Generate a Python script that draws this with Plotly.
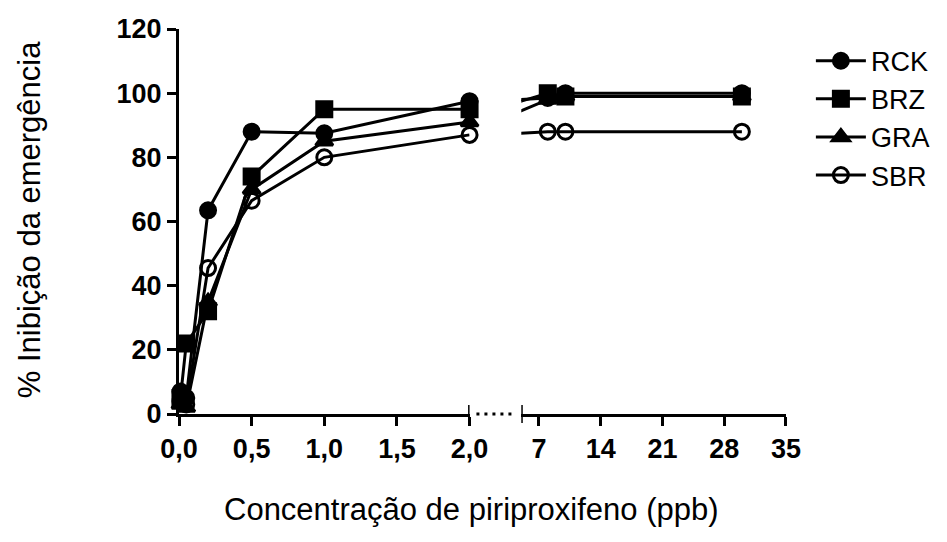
import plotly.graph_objects as go

# Concentrations (ppb) and % emergence inhibition per population
conc = [0.01, 0.05, 0.2, 0.5, 1.0, 2.0, 8.0, 10.0, 30.0]
rck = [7, 5, 63.5, 88, 87.5, 97.5, 98.5, 100, 100]
brz = [5, 22, 32, 74, 95, 95, 100, 99, 99]
gra = [3, 2, 35, 70, 85, 91, 98, 99, 99]
sbr = [4, 3, 45.5, 66.5, 80, 87, 88, 88, 88]

series_names = ["RCK", "BRZ", "GRA", "SBR"]
series_values = [rck, brz, gra, sbr]
symbols = ["circle", "square", "triangle-up", "circle-open"]

x1_ticks = [0.0, 0.5, 1.0, 1.5, 2.0]
x2_ticks = [7, 14, 21, 28, 35]
y_ticks = [0, 20, 40, 60, 80, 100, 120]

BREAK_LO = 2.0   # end of the first x segment
BREAK_HI = 5.0   # start of the second x segment

FONT = "Liberation Sans, Arial, sans-serif"
BLACK = "#000000"

fig = go.Figure()

for name, vals, sym in zip(series_names, series_values, symbols):
    marker = dict(symbol=sym, size=15, color=BLACK, line=dict(color=BLACK, width=3))
    # left segment: only points up to the break
    xs = [c for c in conc if c <= BREAK_LO]
    ys = [v for c, v in zip(conc, vals) if c <= BREAK_LO]
    fig.add_trace(go.Scatter(
        x=xs, y=ys, name=name, mode="lines+markers",
        line=dict(color=BLACK, width=3), marker=marker,
        xaxis="x", yaxis="y", cliponaxis=False,
    ))
    # right segment: full series, the line across the gap is clipped at the break
    fig.add_trace(go.Scatter(
        x=conc, y=vals, name=name, mode="lines+markers", showlegend=False,
        line=dict(color=BLACK, width=3), marker=marker,
        xaxis="x2", yaxis="y", cliponaxis=True,
    ))

axis_common = dict(
    showline=True, linecolor=BLACK, linewidth=3,
    ticks="outside", ticklen=9, tickwidth=3, tickcolor=BLACK,
    showgrid=False, zeroline=False,
    tickfont=dict(family=FONT, size=27, color=BLACK, weight="bold"),
)

fig.update_layout(
    width=947, height=542,
    margin=dict(l=179, r=158, t=29, b=128),
    plot_bgcolor="white", paper_bgcolor="white",
    separators=", ",
    font=dict(family=FONT, color=BLACK),
    xaxis=dict(domain=[0, 0.4787], range=[0, BREAK_LO], tickvals=x1_ticks,
               tickformat=".1f", anchor="y", **axis_common),
    xaxis2=dict(domain=[0.5639, 1], range=[BREAK_HI, 35], tickvals=x2_ticks,
                anchor="y", **axis_common),
    yaxis=dict(range=[0, 120], tickvals=y_ticks, anchor="x", **axis_common),
    legend=dict(
        x=1.041, y=0.98, xanchor="left", yanchor="top",
        font=dict(family=FONT, size=27, color=BLACK),
        itemwidth=50, bgcolor="rgba(0,0,0,0)", borderwidth=0,
    ),
    showlegend=True,
)

# axis break: bars at both segment ends and a dotted bridge
half = 9 / 385
fig.add_shape(type="line", xref="x", yref="paper", x0=BREAK_LO, x1=BREAK_LO,
              y0=-half, y1=half, line=dict(color=BLACK, width=3))
fig.add_shape(type="line", xref="x2", yref="paper", x0=BREAK_HI, x1=BREAK_HI,
              y0=-half, y1=half, line=dict(color=BLACK, width=3))
fig.add_shape(type="line", xref="paper", yref="paper", x0=0.49, x1=0.555,
              y0=0, y1=0, line=dict(color=BLACK, width=3, dash="3px,5px"))

# axis titles
fig.add_annotation(text="Concentração de piriproxifeno (ppb)", xref="paper", yref="paper",
                   x=0.482, y=-0.249, xanchor="center", yanchor="middle", showarrow=False,
                   font=dict(family=FONT, size=31, color=BLACK))
fig.add_annotation(text="% Inibição da emergência", xref="paper", yref="paper",
                   x=-0.245, y=0.504, xanchor="center", yanchor="middle",
                   textangle=-90, showarrow=False,
                   font=dict(family=FONT, size=31, color=BLACK))

fig.write_html("out.html")
